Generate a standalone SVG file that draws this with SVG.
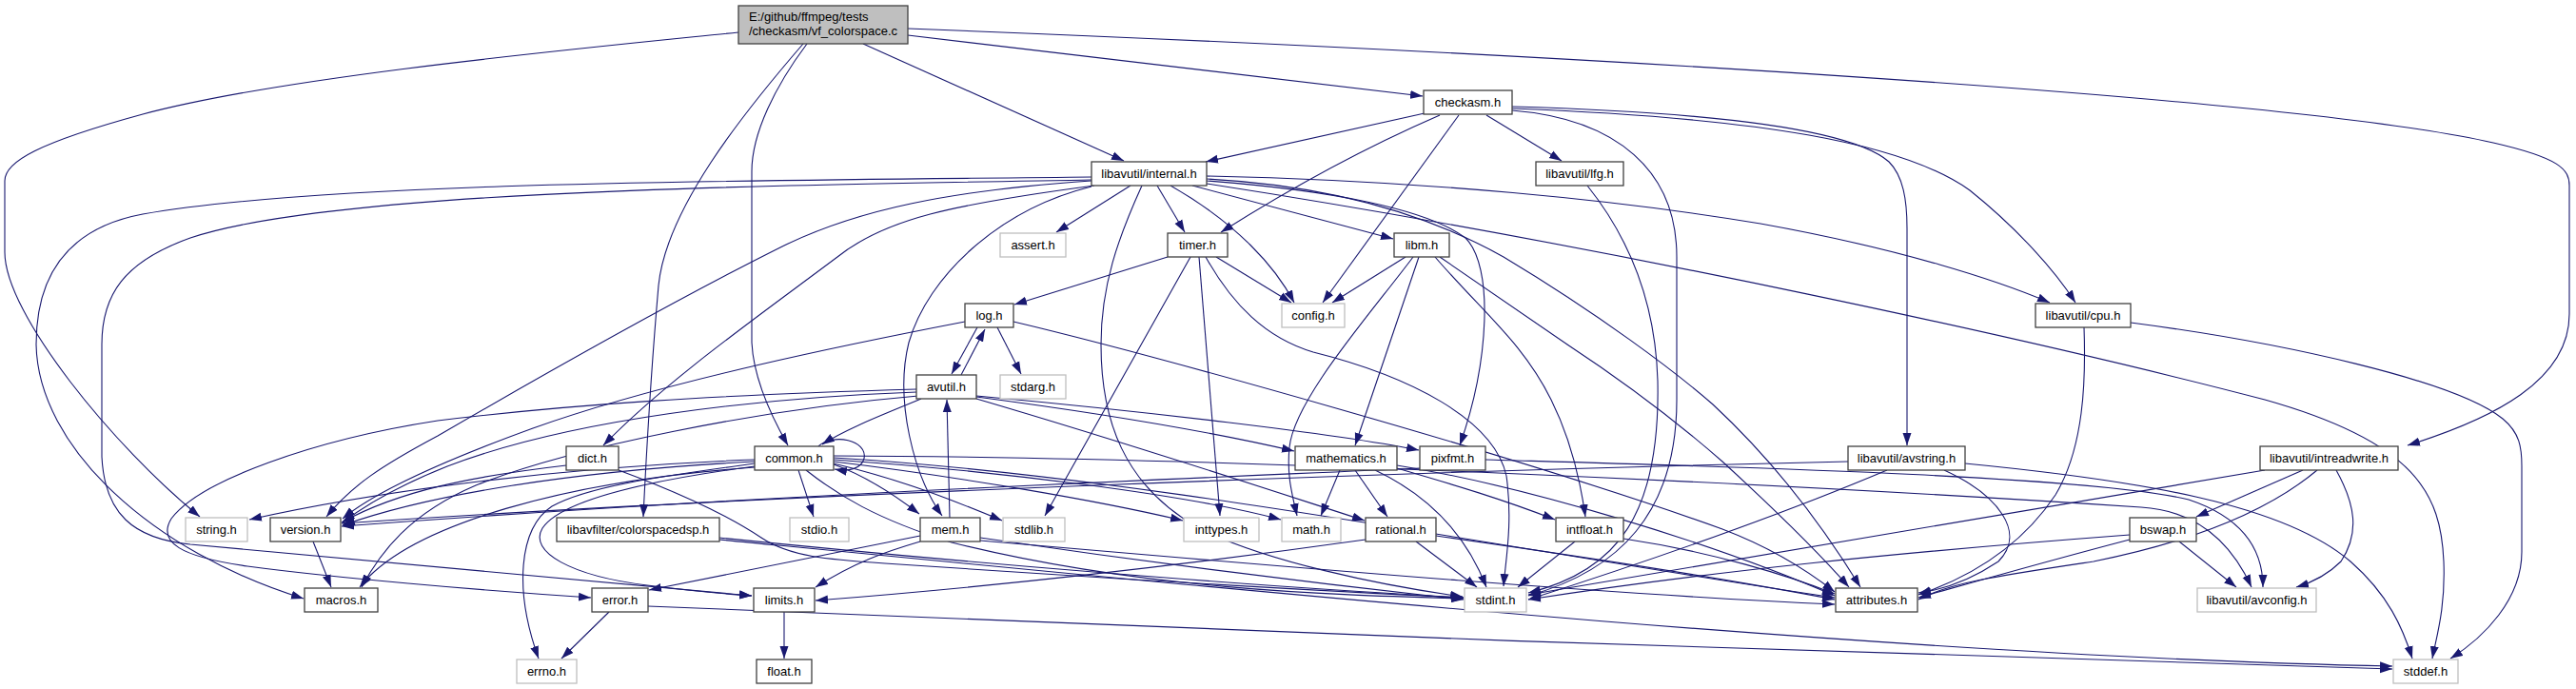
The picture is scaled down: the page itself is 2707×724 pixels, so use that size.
<svg xmlns="http://www.w3.org/2000/svg" width="2707" height="724" viewBox="0 0 2707 724">
<style>
.n rect{fill:#fff;stroke:#404040;stroke-width:1.3}
.g rect{fill:#fff;stroke:#bfbfbf;stroke-width:1.3}
.r rect{fill:#bfbfbf;stroke:#404040;stroke-width:1.3}
text{font-family:"Liberation Sans",Arial,sans-serif;font-size:13px;text-anchor:middle;fill:#000}
.r text{text-anchor:start}
#edges path{fill:none;stroke:#191970;stroke-width:1.1;marker-end:url(#a)}
</style>
<defs>
<marker id="a" markerUnits="userSpaceOnUse" markerWidth="14" markerHeight="10" refX="13" refY="5" orient="auto"><path d="M0,0.5 L13,5 L0,9.5 Z" fill="#191970"/></marker>
</defs>
<rect width="2707" height="724" fill="#fff"/>
<g id="edges">
<path d="M776,34 C600,52 300,80 150,120 C40,150 5,170 5,190 L5,265 C5,330 120,470 210,543"/>
<path d="M844,46 C780,120 700,220 692,300 C685,380 680,460 676,543"/>
<path d="M848,46 C815,90 790,140 790,180 L790,360 C792,400 812,440 828,468"/>
<path d="M907,46 L1181,169"/>
<path d="M954,37 L1495,101"/>
<path d="M954,30 C1600,55 2400,100 2620,150 C2690,166 2700,178 2700,195 L2700,330 C2700,400 2620,440 2530,468"/>
<path d="M1497,119 L1267,170"/>
<path d="M1513,121 Q1400,170 1283,244"/>
<path d="M1533,121 L1390,318"/>
<path d="M1562,121 L1641,169"/>
<path d="M1589,112 C1800,118 1945,135 1985,170 C2000,185 2004,210 2004,240 L2004,468"/>
<path d="M1589,114 C1850,124 2000,150 2070,200 C2120,240 2160,285 2181,318"/>
<path d="M1589,116 C1700,125 1762,180 1762,270 L1762,420 C1762,540 1700,600 1606,626"/>
<path d="M1668,195 C1720,260 1740,330 1742,400 C1745,540 1700,600 1606,623"/>
<path d="M1188,195 L1110,244"/>
<path d="M1216,195 L1245,244"/>
<path d="M1230,195 C1300,235 1340,280 1360,318"/>
<path d="M1253,195 L1464,251"/>
<path d="M1268,185 C1500,190 1700,210 1850,235 C2000,262 2100,295 2154,318"/>
<path d="M1268,188 C1400,195 1500,225 1580,270 C1680,330 1760,390 1800,425 C1870,490 1920,560 1955,617"/>
<path d="M1268,190 C1400,200 1500,220 1540,250 C1570,280 1565,380 1534,468"/>
<path d="M1268,193 C1700,260 2150,360 2380,420 C2540,465 2565,520 2568,590 C2570,640 2560,670 2556,692"/>
<path d="M1150,195 C1000,215 930,230 880,270 C800,330 700,400 634,468"/>
<path d="M1147,190 C1000,200 900,220 820,260 C700,320 560,400 460,458 C400,490 370,510 343,543"/>
<path d="M1147,186 C800,190 350,190 150,225 C70,240 38,290 38,362 C40,470 160,580 319,629"/>
<path d="M1147,189 C800,195 350,200 200,250 C130,275 107,310 107,362 L107,480 C110,540 140,566 200,572 C400,590 600,608 790,626"/>
<path d="M1147,196 C1050,220 975,290 955,360 C940,420 960,500 990,542"/>
<path d="M1200,195 C1175,250 1157,300 1157,362 C1157,440 1180,510 1260,555 C1330,590 1450,615 1537,627"/>
<path d="M1227,270 L1066,320"/>
<path d="M1278,270 L1357,318"/>
<path d="M1251,270 L1098,542"/>
<path d="M1260,270 L1282,542"/>
<path d="M1267,270 C1295,320 1330,355 1380,370 C1480,395 1570,440 1583,500 C1590,550 1582,590 1580,616"/>
<path d="M1477,270 L1400,318"/>
<path d="M1485,270 C1440,330 1360,420 1355,470 C1352,500 1358,520 1363,542"/>
<path d="M1491,270 L1424,468"/>
<path d="M1508,270 C1560,330 1600,360 1630,420 C1650,460 1660,500 1666,543"/>
<path d="M1513,270 L1647,362 C1720,410 1770,450 1810,485 C1870,540 1915,585 1943,617"/>
<path d="M1027,344 L1000,393"/>
<path d="M1048,344 L1073,393"/>
<path d="M1014,338 C900,360 700,400 560,450 C450,490 390,520 360,545"/>
<path d="M1065,338 C1200,370 1600,480 1810,556 C1860,575 1900,600 1928,622"/>
<path d="M2190,344 C2192,400 2190,470 2160,520 C2120,580 2060,610 2016,625"/>
<path d="M2239,339 C2400,360 2580,400 2630,440 C2648,455 2650,470 2650,490 L2650,580 C2650,630 2610,670 2575,692"/>
<path d="M1010,394 L1035,346"/>
<path d="M968,419 C930,435 890,450 864,467"/>
<path d="M963,412 C800,418 600,440 470,490 C420,510 385,530 360,549"/>
<path d="M963,409 C750,415 600,425 460,442 C330,462 210,505 180,545 C165,570 190,585 260,595 C350,607 500,620 621,628"/>
<path d="M965,416 C800,430 600,470 500,510 C430,540 400,580 380,617"/>
<path d="M1026,416 C1200,432 1400,455 1491,473"/>
<path d="M1026,417 C1200,440 1300,460 1360,474"/>
<path d="M1026,419 C1200,470 1350,520 1434,547"/>
<path d="M595,489 C500,500 420,515 359,549"/>
<path d="M650,494 C720,520 770,545 800,565 C830,585 870,588 930,592 C1200,610 1400,622 1538,628"/>
<path d="M793,487 C700,500 620,510 580,532 C545,555 540,620 566,692"/>
<path d="M793,490 C680,505 590,525 570,555 C555,580 600,605 680,615 C720,620 760,624 790,626"/>
<path d="M793,483 C600,490 400,515 262,546"/>
<path d="M793,485 C600,495 450,520 360,552"/>
<path d="M793,491 C600,505 430,550 378,617"/>
<path d="M839,494 L855,543"/>
<path d="M876,488 C910,500 940,520 966,540"/>
<path d="M876,485 C1000,500 1150,525 1243,547"/>
<path d="M876,483 C1050,495 1250,520 1346,546"/>
<path d="M847,494 C880,520 920,545 1000,570 C1200,620 1400,625 1538,629"/>
<path d="M876,487 C950,505 1000,525 1053,547"/>
<path d="M876,481 C1200,500 1600,580 1928,628"/>
<path d="M876,479 C1300,480 1900,510 2250,533 C2300,536 2340,560 2366,617"/>
<path d="M860,469 C875,455 912,462 908,482 C905,492 893,496 877,493"/>
<path d="M1408,494 L1388,542"/>
<path d="M1424,494 L1458,543"/>
<path d="M1445,494 C1500,520 1540,560 1562,617"/>
<path d="M1468,492 C1530,510 1580,525 1634,546"/>
<path d="M1468,489 C1600,510 1800,570 1928,626"/>
<path d="M1561,483 C1800,490 2200,500 2300,525 C2360,545 2378,580 2378,617"/>
<path d="M1492,492 C1200,505 800,520 359,553"/>
<path d="M2065,487 C2250,505 2400,530 2470,590 C2510,625 2525,660 2535,692"/>
<path d="M1983,494 C1850,550 1700,600 1606,630"/>
<path d="M2043,494 C2100,520 2130,560 2100,590 C2070,610 2040,620 2016,623"/>
<path d="M1942,485 C1500,495 800,520 359,550"/>
<path d="M2420,494 L2308,543"/>
<path d="M2455,494 C2475,530 2480,560 2460,590 C2445,605 2430,612 2413,617"/>
<path d="M2435,494 C2380,540 2300,570 2200,590 C2100,605 2050,612 2016,630"/>
<path d="M2380,494 C2200,525 1900,575 1606,625"/>
<path d="M2238,562 C2000,580 1800,600 1606,630"/>
<path d="M2238,567 C2150,590 2080,610 2016,628"/>
<path d="M2290,569 L2350,617"/>
<path d="M1488,569 L1552,617"/>
<path d="M1435,567 C1200,600 1000,620 857,631"/>
<path d="M1509,563 C1700,590 1850,615 1928,630"/>
<path d="M1655,569 L1595,617"/>
<path d="M1706,566 C1800,580 1880,605 1928,624"/>
<path d="M998,544 L995,420"/>
<path d="M967,563 L682,620"/>
<path d="M967,569 C930,580 900,590 857,617"/>
<path d="M1030,565 C1200,590 1400,615 1538,630"/>
<path d="M1030,568 C1400,600 1700,625 1928,635"/>
<path d="M640,643 L590,692"/>
<path d="M681,637 C1200,660 2000,690 2514,703"/>
<path d="M824,643 L824,692"/>
<path d="M756,565 C1000,590 1300,615 1538,628"/>
<path d="M756,567 C1300,620 2000,690 2514,700"/>
<path d="M329,569 L348,617"/>
</g>
<g id="root" class="r"><rect x="776" y="6" width="178" height="40"/><text x="787" y="22">E:/github/ffmpeg/tests</text><text x="787" y="37">/checkasm/vf_colorspace.c</text></g>
<g id="checkasm" class="n"><rect x="1496" y="95" width="93" height="25"/><text x="1542.5" y="112">checkasm.h</text></g>
<g id="internal" class="n"><rect x="1147" y="170" width="121" height="25"/><text x="1207.5" y="187">libavutil/internal.h</text></g>
<g id="lfg" class="n"><rect x="1614" y="170" width="92" height="25"/><text x="1660" y="187">libavutil/lfg.h</text></g>
<g id="assert" class="g"><rect x="1051" y="245" width="69" height="25"/><text x="1085.5" y="262">assert.h</text></g>
<g id="timer" class="n"><rect x="1227" y="245" width="63" height="25"/><text x="1258.5" y="262">timer.h</text></g>
<g id="libm" class="n"><rect x="1465" y="245" width="58" height="25"/><text x="1494" y="262">libm.h</text></g>
<g id="log" class="n"><rect x="1014" y="319" width="51" height="25"/><text x="1039.5" y="336">log.h</text></g>
<g id="config" class="g"><rect x="1347" y="319" width="66" height="25"/><text x="1380" y="336">config.h</text></g>
<g id="cpu" class="n"><rect x="2139" y="319" width="100" height="25"/><text x="2189" y="336">libavutil/cpu.h</text></g>
<g id="avutil" class="n"><rect x="963" y="394" width="63" height="25"/><text x="994.5" y="411">avutil.h</text></g>
<g id="stdarg" class="g"><rect x="1051" y="394" width="69" height="25"/><text x="1085.5" y="411">stdarg.h</text></g>
<g id="dict" class="n"><rect x="595" y="469" width="55" height="25"/><text x="622.5" y="486">dict.h</text></g>
<g id="common" class="n"><rect x="793" y="469" width="83" height="25"/><text x="834.5" y="486">common.h</text></g>
<g id="mathematics" class="n"><rect x="1361" y="469" width="107" height="25"/><text x="1414.5" y="486">mathematics.h</text></g>
<g id="pixfmt" class="n"><rect x="1492" y="469" width="69" height="25"/><text x="1526.5" y="486">pixfmt.h</text></g>
<g id="avstring" class="n"><rect x="1942" y="469" width="123" height="25"/><text x="2003.5" y="486">libavutil/avstring.h</text></g>
<g id="intreadwrite" class="n"><rect x="2375" y="469" width="145" height="25"/><text x="2447.5" y="486">libavutil/intreadwrite.h</text></g>
<g id="string" class="g"><rect x="195" y="544" width="65" height="25"/><text x="227.5" y="561">string.h</text></g>
<g id="version" class="n"><rect x="284" y="544" width="74" height="25"/><text x="321" y="561">version.h</text></g>
<g id="colorspacedsp" class="n"><rect x="585" y="544" width="171" height="25"/><text x="670.5" y="561">libavfilter/colorspacedsp.h</text></g>
<g id="stdio" class="g"><rect x="830" y="544" width="62" height="25"/><text x="861" y="561">stdio.h</text></g>
<g id="mem" class="n"><rect x="967" y="544" width="63" height="25"/><text x="998.5" y="561">mem.h</text></g>
<g id="stdlib" class="g"><rect x="1054" y="544" width="65" height="25"/><text x="1086.5" y="561">stdlib.h</text></g>
<g id="inttypes" class="g"><rect x="1244" y="544" width="79" height="25"/><text x="1283.5" y="561">inttypes.h</text></g>
<g id="math" class="g"><rect x="1347" y="544" width="62" height="25"/><text x="1378" y="561">math.h</text></g>
<g id="rational" class="n"><rect x="1435" y="544" width="74" height="25"/><text x="1472" y="561">rational.h</text></g>
<g id="intfloat" class="n"><rect x="1635" y="544" width="71" height="25"/><text x="1670.5" y="561">intfloat.h</text></g>
<g id="bswap" class="n"><rect x="2238" y="544" width="70" height="25"/><text x="2273" y="561">bswap.h</text></g>
<g id="macros" class="n"><rect x="320" y="618" width="77" height="25"/><text x="358.5" y="635">macros.h</text></g>
<g id="error" class="n"><rect x="622" y="618" width="59" height="25"/><text x="651.5" y="635">error.h</text></g>
<g id="limits" class="n"><rect x="792" y="618" width="64" height="25"/><text x="824" y="635">limits.h</text></g>
<g id="stdint" class="g"><rect x="1539" y="618" width="65" height="25"/><text x="1571.5" y="635">stdint.h</text></g>
<g id="attributes" class="n"><rect x="1929" y="618" width="86" height="25"/><text x="1972" y="635">attributes.h</text></g>
<g id="avconfig" class="g"><rect x="2309" y="618" width="125" height="25"/><text x="2371.5" y="635">libavutil/avconfig.h</text></g>
<g id="errno" class="g"><rect x="543" y="693" width="63" height="25"/><text x="574.5" y="710">errno.h</text></g>
<g id="float" class="n"><rect x="795" y="693" width="58" height="25"/><text x="824" y="710">float.h</text></g>
<g id="stddef" class="g"><rect x="2515" y="693" width="68" height="25"/><text x="2549" y="710">stddef.h</text></g>
</svg>
